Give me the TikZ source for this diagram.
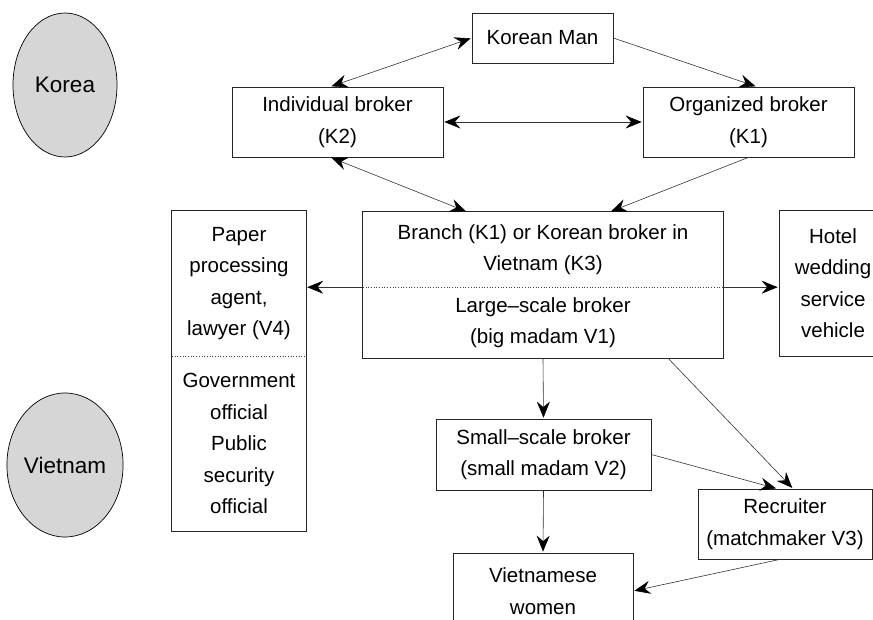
\documentclass[tikz,border=0pt]{standalone}
\usepackage{fontspec}
\setmainfont{Liberation Sans}
\usetikzlibrary{arrows.meta,shapes.geometric}

\tikzset{
  frame/.style={draw=black!85,line width=0.7pt},
  part/.style={inner sep=0pt,align=center,font=\fontsize{20.5}{31.5}\selectfont},
  box/.style={part,frame},
  divider/.style={draw=black!75,line width=0.7pt,dotted},
  land/.style={ellipse,draw=black,fill=black!16,line width=0.7pt,inner sep=0pt,
    minimum width=104pt,minimum height=144pt,font=\fontsize{22.5}{27}\selectfont},
  link/.style={draw=black!80,line width=0.6pt,shorten >=1pt,
    -{Stealth[length=16pt,width=13pt,inset=5.5pt,black]}},
  twoway/.style={link,shorten <=1pt,
    {Stealth[length=16pt,width=13pt,inset=5.5pt,black]}-{Stealth[length=16pt,width=13pt,inset=5.5pt,black]}}
}

\begin{document}
\begin{tikzpicture}[x=1pt,y=-1pt]
\useasboundingbox (0,0) rectangle (873,620);
% countries:
\node[land] (korea) at (65,85) {Korea};
\node[land] (vietnam) at (65,465) {Vietnam};
% korean side:
\node[box,minimum width=141pt,minimum height=50pt] (man) at (542.5,38) {Korean Man};
\node[box,minimum width=211pt,minimum height=70pt] (indiv) at (337.5,122) {Individual broker\\(K2)};
\node[box,minimum width=211pt,minimum height=70pt] (organ) at (748.5,122) {Organized broker\\(K1)};
% branch box, two parts:
\node[part,minimum width=360pt,minimum height=75pt] (branch) at (543,249.5) {Branch (K1) or Korean broker in\\Vietnam (K3)};
\node[part,minimum width=360pt,minimum height=71pt] (large) at (543,322.5) {Large–scale broker\\(big madam V1)};
\draw[frame] (branch.north west) rectangle (large.south east);
\draw[divider] (branch.south west) -- (branch.south east);
% paper box, two parts:
\node[part,minimum width=134pt,minimum height=145pt] (paper) at (239,283.5) {Paper\\processing\\agent,\\lawyer (V4)};
\node[part,minimum width=134pt,minimum height=175pt] (officer) at (239,443.5) {Government\\official\\Public\\security\\official};
\draw[frame] (paper.north west) rectangle (officer.south east);
\draw[divider] (paper.south west) -- (paper.south east);
% other boxes:
\node[box,minimum width=108pt,minimum height=146pt] (hotel) at (833,283) {Hotel\\wedding\\service\\vehicle};
\node[box,minimum width=215pt,minimum height=71pt] (small) at (543.5,454.5) {Small–scale broker\\(small madam V2)};
\node[box,minimum width=174pt,minimum height=70pt] (recruit) at (785,524) {Recruiter\\(matchmaker V3)};
\node[box,minimum width=180pt,minimum height=76pt] (women) at (543,591) {Vietnamese\\women};
% connectors:
\draw[twoway] ([xshift=-7pt]indiv.north) -- (man.west);
\draw[link] (man.east) -- ([xshift=8pt]organ.north);
\draw[twoway] (indiv.east) -- (organ.west);
\draw[twoway] ([xshift=-7pt]indiv.south) -- ([xshift=-76pt]branch.north);
\draw[link] (organ.south) -- ([xshift=67pt]branch.north);
\draw[link] (branch.south west) -- (branch.south west -| paper.east);
\draw[link] (branch.south east) -- (branch.south east -| hotel.west);
\draw[link] (large.south) -- (small.north);
\draw[link] ([xshift=125pt]large.south) -- ([xshift=8pt]recruit.north);
\draw[link] (small.east) -- ([xshift=-8pt]recruit.north);
\draw[link] (small.south) -- (women.north);
\draw[link] ([xshift=-5pt]recruit.south) -- (women.east);
\end{tikzpicture}
\end{document}
